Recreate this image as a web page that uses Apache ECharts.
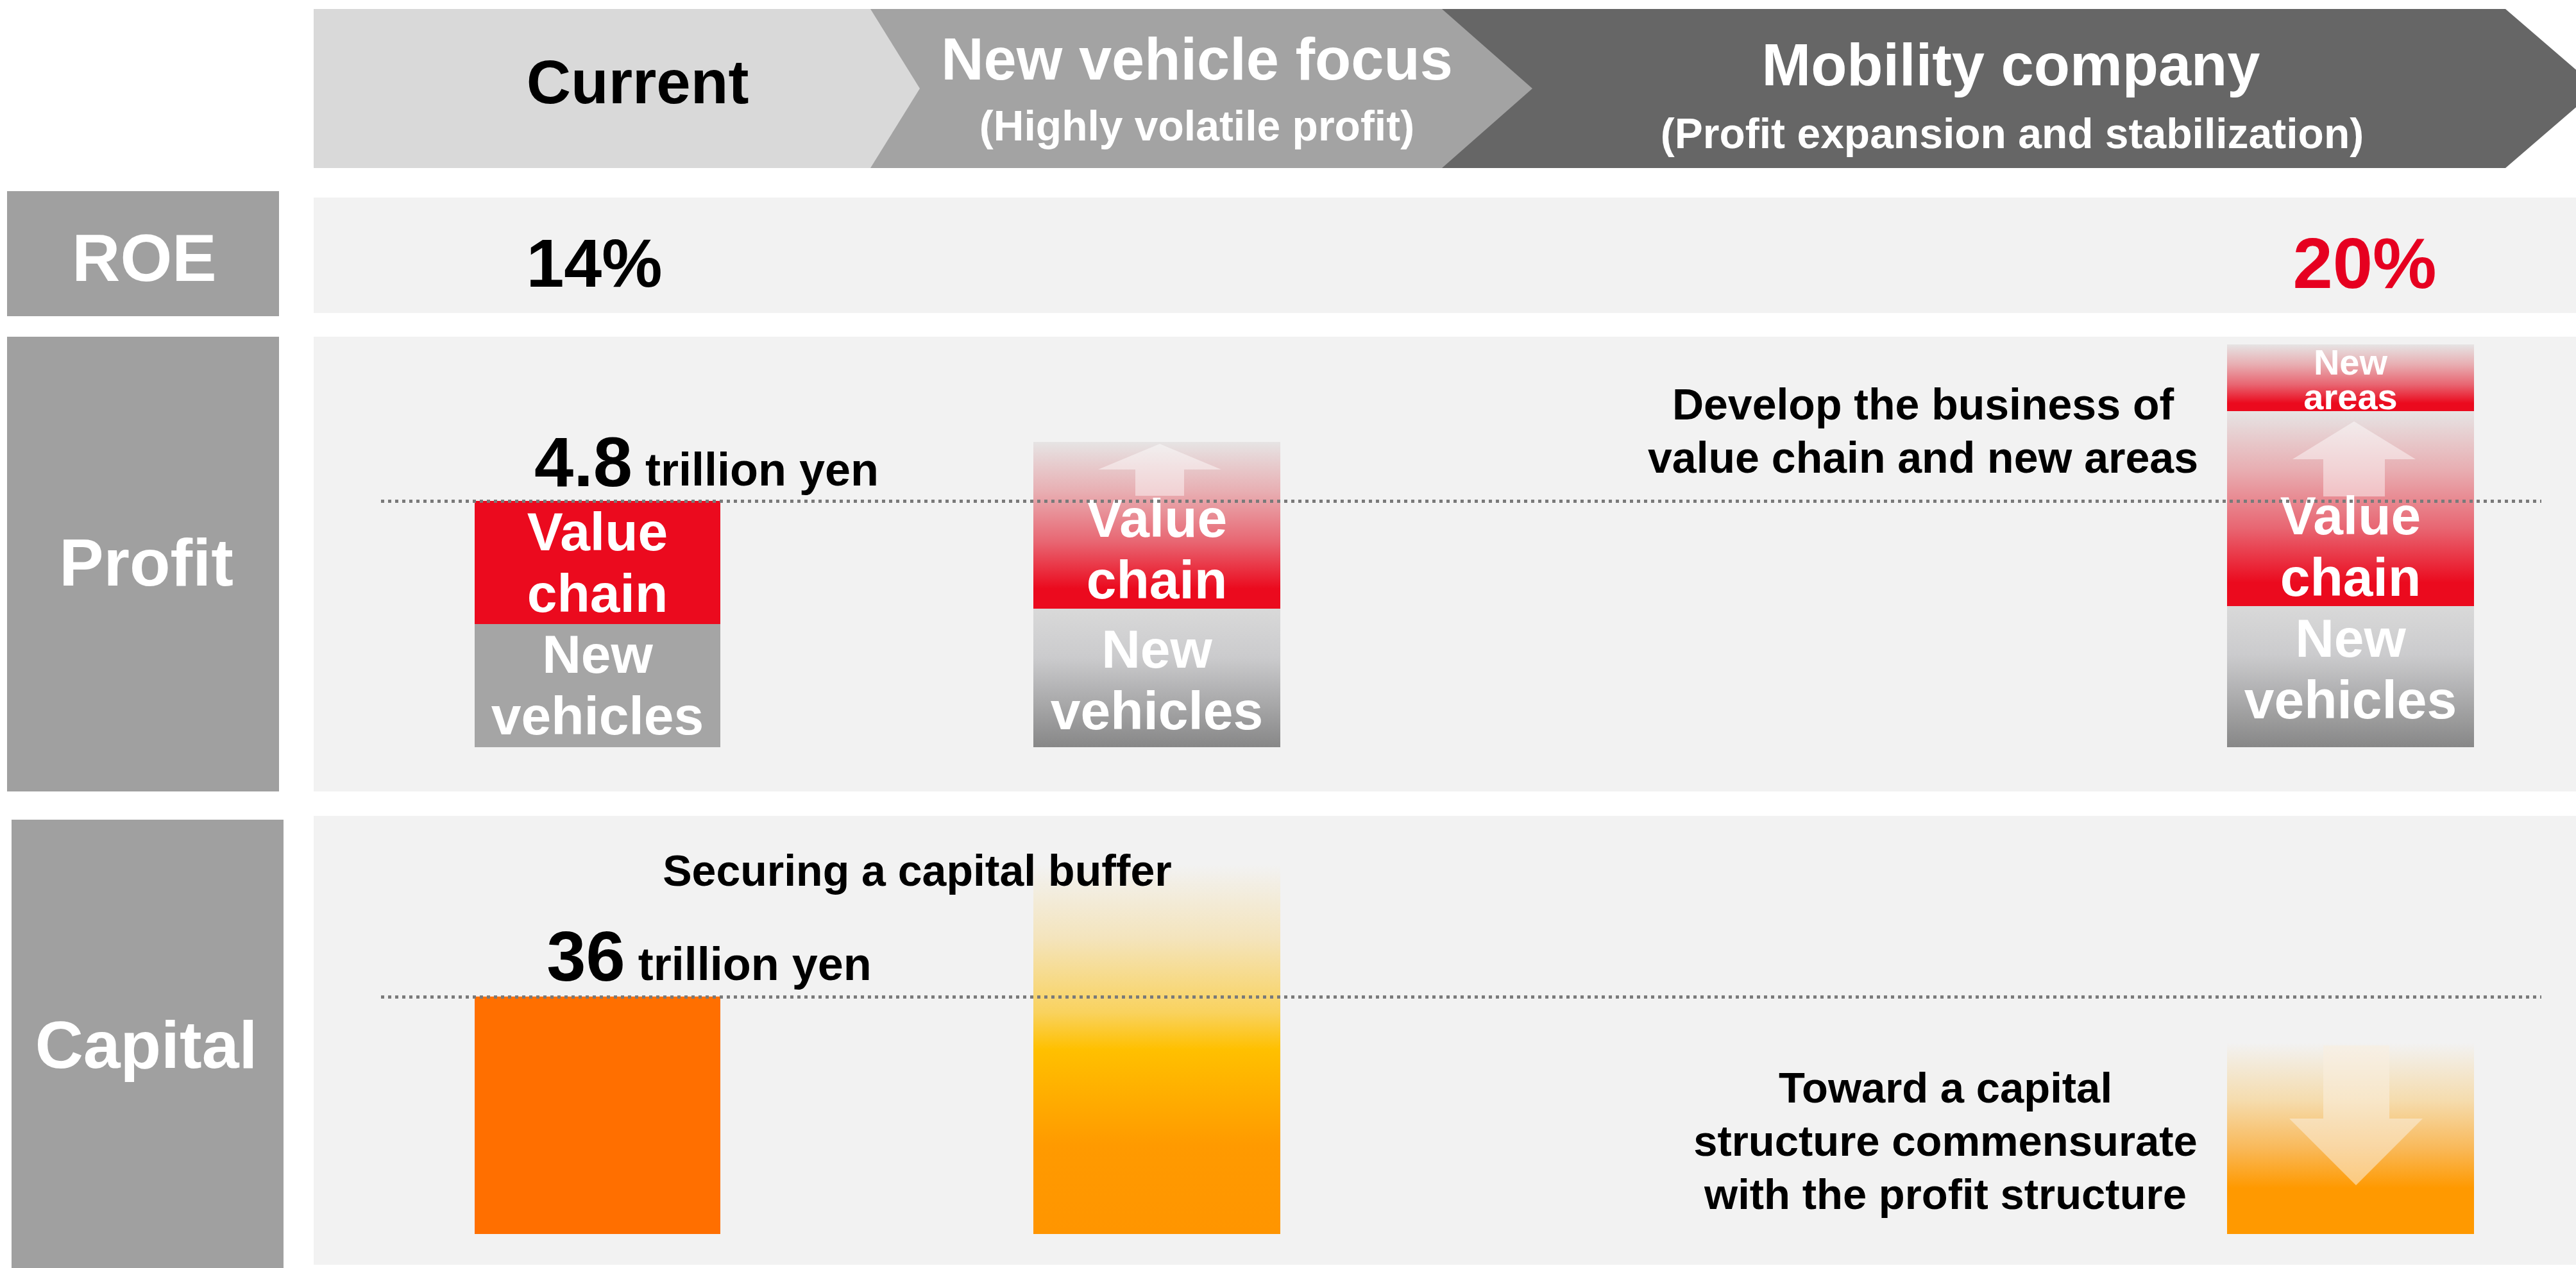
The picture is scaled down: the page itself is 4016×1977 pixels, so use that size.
<!DOCTYPE html>
<html>
<head>
<meta charset="utf-8">
<script src="https://cdn.jsdelivr.net/npm/echarts@6/dist/echarts.min.js"></script>
<style>
  html, body { margin: 0; padding: 0; background: #fff; }
  #main { width: 4016px; height: 1977px; }
</style>
</head>
<body>
<div id="main"></div>
<script>
// data (trillion yen / %)
var stages = ['Current', 'New vehicle focus', 'Mobility company'];
var stageNotes = ['', '(Highly volatile profit)', '(Profit expansion and stabilization)'];
var rowLabels = ['ROE', 'Profit', 'Capital'];
var roe = [14, null, 20];
var newVehicles = [2.4, 2.7, 2.75];
var valueChain = [2.4, 3.25, 3.8];
var newAreas = [null, null, 1.3];
var capital = [36, 56, 29];

var F = '"Liberation Sans", Arial, sans-serif';
var RED = '#eb0a1e';

// layout (px)
var colLeft = [740, 1611, 3472];
var colWidth = [383, 385, 385];
var colCenter = colLeft.map(function (l, i) { return l + colWidth[i] / 2; });
var profitGrid = { top: 525, height: 640 };
var capitalGrid = { top: 1307, height: 617 };
var nvOffset = [[0, 5], [0, 9], [0, -6]];
var vcDistance = [-6, -9, -9];

function vgrad(stops) {
	return new echarts.graphic.LinearGradient(0, 0, 0, 1, stops.map(function (s) {
		return { offset: s[0], color: s[1] };
	}));
}
var redStops = [[0, '#e6e4e4'], [0.3, '#e8aeb2'], [0.6, '#e86672'], [0.88, RED], [1, RED]];
var greyStops = [[0, '#d9d9d9'], [0.35, '#cbcbcd'], [1, '#878787']];
var capStops = [
	null,
	[[0, '#f2f2f2'], [0.2, '#f4e4bc'], [0.4, '#f9d25e'], [0.5, '#ffc000'], [0.76, '#ff9a00'], [1, '#ff9500']],
	[[0, '#f2f2f2'], [0.3, '#f5dcae'], [0.55, '#f9b95a'], [0.76, '#ff9900'], [1, '#ff9900']]
];

var profitTotal = newVehicles[0] + valueChain[0];

var bigRich = {
	a: { fontSize: 110, lineHeight: 110, fontWeight: 'bold', color: '#000', fontFamily: F },
	b: { fontSize: 72, lineHeight: 82, fontWeight: 'bold', color: '#000', fontFamily: F,
		verticalAlign: 'bottom', padding: [0, 0, 10, 0] }
};
var whiteLabel = { color: '#fff', fontWeight: 'bold', fontFamily: F };

var grids = [], xAxes = [], yAxes = [], series = [];

// profit grids 0..2, capital grids 3..5
[profitGrid, capitalGrid].forEach(function (g, r) {
	stages.forEach(function (name, c) {
		grids.push({ left: colLeft[c], width: colWidth[c], top: g.top, height: g.height });
		xAxes.push({ type: 'category', gridIndex: r * 3 + c, data: [name], show: false });
		yAxes.push({ type: 'value', gridIndex: r * 3 + c, min: 0, max: r === 0 ? 8 : 60, show: false });
	});
});
// full-width grids for the dotted reference lines: 6 profit, 7 capital
[profitGrid, capitalGrid].forEach(function (g, r) {
	grids.push({ left: 594, width: 3368, top: g.top, height: g.height });
	xAxes.push({ type: 'value', gridIndex: 6 + r, min: 0, max: 1, show: false });
	yAxes.push({ type: 'value', gridIndex: 6 + r, min: 0, max: r === 0 ? 8 : 60, show: false });
});

stages.forEach(function (name, c) {
	var flat = c === 0;
	var z = c === 2 ? 4 : 2;
	series.push({
		name: 'New vehicles', type: 'bar', xAxisIndex: c, yAxisIndex: c, stack: 'p' + c,
		barWidth: '100%', z: z, data: [newVehicles[c]],
		itemStyle: { color: flat ? '#a5a5a5' : vgrad(greyStops) },
		label: Object.assign({ show: true, position: 'inside', offset: nvOffset[c], formatter: 'New\nvehicles',
			fontSize: 84, lineHeight: 96 }, whiteLabel)
	});
	series.push({
		name: 'Value chain', type: 'bar', xAxisIndex: c, yAxisIndex: c, stack: 'p' + c,
		barWidth: '100%', z: z, data: [valueChain[c]],
		itemStyle: { color: flat ? RED : vgrad(redStops) },
		label: Object.assign({ show: true, position: 'insideBottom', distance: vcDistance[c], formatter: 'Value\nchain',
			fontSize: 84, lineHeight: 96 }, whiteLabel)
	});
	if (newAreas[c] != null) {
		series.push({
			name: 'New areas', type: 'bar', xAxisIndex: c, yAxisIndex: c, stack: 'p' + c,
			barWidth: '100%', z: z, data: [newAreas[c]],
			itemStyle: { color: vgrad(redStops) },
			label: Object.assign({ show: true, position: 'inside', offset: [0, 7], formatter: 'New\nareas',
				fontSize: 56, lineHeight: 54 }, whiteLabel)
		});
	}
	if (c === 0) {
		// zero-height cap on the stack to carry the total label
		series.push({
			name: 'Total', type: 'bar', xAxisIndex: c, yAxisIndex: c, stack: 'p' + c,
			barWidth: '100%', z: z, data: [0], itemStyle: { color: 'transparent' },
			label: { show: true, position: 'top', distance: -2, offset: [170, 0],
				formatter: '{a|' + profitTotal.toFixed(1) + '}{b| trillion yen}', rich: bigRich }
		});
	}
	series.push({
		name: 'Capital', type: 'bar', xAxisIndex: 3 + c, yAxisIndex: 3 + c,
		barWidth: '100%', z: 2, data: [capital[c]],
		itemStyle: { color: flat ? '#ff6f00' : vgrad(capStops[c]) },
		label: { show: c === 0, position: 'top', distance: 0, offset: [174, 0],
			formatter: '{a|' + capital[0] + '}{b| trillion yen}', rich: bigRich }
	});
});

var dotted = { color: '#7a7a7a', width: 5, type: [5, 6] };
[profitTotal, capital[0]].forEach(function (v, r) {
	series.push({
		type: 'line', xAxisIndex: 6 + r, yAxisIndex: 6 + r, data: [], z: 3,
		markLine: { silent: true, symbol: ['none', 'none'], label: { show: false },
			lineStyle: dotted, data: [{ yAxis: v }] }
	});
});

function txt(text, x, y, size, color) {
	return {
		type: 'text', z: 10,
		style: { text: text, x: x, y: y + 5, fill: color, fontSize: size, fontWeight: 'bold',
			fontFamily: F, textAlign: 'center', textVerticalAlign: 'middle' }
	};
}
function multi(text, x, y, size, lh) {
	var t = txt(text, x, y, size, '#000');
	t.style.lineHeight = lh;
	return t;
}

var elements = [
	// header chevrons
	{ type: 'polygon', z: 0, shape: { points: [[2248, 14], [3906, 14], [4050, 138], [3906, 262], [2248, 262]] }, style: { fill: '#666666' } },
	{ type: 'polygon', z: 0, shape: { points: [[1357, 14], [2248, 14], [2389, 138], [2248, 262], [1357, 262]] }, style: { fill: '#a3a3a3' } },
	{ type: 'polygon', z: 0, shape: { points: [[489, 14], [1357, 14], [1434, 138], [1357, 262], [489, 262]] }, style: { fill: '#d9d9d9' } },
	// row panels
	{ type: 'rect', z: 0, shape: { x: 489, y: 308, width: 3527, height: 180 }, style: { fill: '#f2f2f2' } },
	{ type: 'rect', z: 0, shape: { x: 489, y: 525, width: 3527, height: 709 }, style: { fill: '#f2f2f2' } },
	{ type: 'rect', z: 0, shape: { x: 489, y: 1272, width: 3527, height: 700 }, style: { fill: '#f2f2f2' } },
	// row label boxes
	{ type: 'rect', z: 0, shape: { x: 11, y: 298, width: 424, height: 195 }, style: { fill: '#a0a0a0' } },
	{ type: 'rect', z: 0, shape: { x: 11, y: 525, width: 424, height: 709 }, style: { fill: '#a0a0a0' } },
	{ type: 'rect', z: 0, shape: { x: 18, y: 1278, width: 424, height: 699 }, style: { fill: '#a0a0a0' } },
	txt(rowLabels[0], 225, 404, 104, '#fff'),
	txt(rowLabels[1], 228, 879, 104, '#fff'),
	txt(rowLabels[2], 228, 1631, 104, '#fff'),
	// header texts
	txt(stages[0], 994, 130, 96, '#000'),
	txt(stages[1], 1866, 94, 92, '#fff'),
	txt(stageNotes[1], 1866, 196, 66, '#fff'),
	txt(stages[2], 3135, 103, 92, '#fff'),
	txt(stageNotes[2], 3137, 208, 66, '#fff'),
	// arrows
	{ type: 'polygon', z: 10, shape: { points: [[1808, 692], [1904, 732], [1846, 732], [1846, 773], [1770, 773], [1770, 732], [1712, 732]] }, style: { fill: 'rgba(255,255,255,0.45)' } },
	{ type: 'polygon', z: 10, shape: { points: [[3670, 657], [3766, 716], [3718, 716], [3718, 774], [3622, 774], [3622, 716], [3574, 716]] }, style: { fill: 'rgba(255,255,255,0.45)' } },
	{ type: 'polygon', z: 10, shape: { points: [[3622, 1630], [3725, 1630], [3725, 1744], [3777, 1744], [3673, 1848], [3569, 1744], [3622, 1744]] }, style: { fill: 'rgba(250,238,222,0.55)' } },
	// annotations
	multi('Develop the business of\nvalue chain and new areas', 2998, 672, 68, 83),
	txt('Securing a capital buffer', 1430, 1357, 68, '#000'),
	multi('Toward a capital\nstructure commensurate\nwith the profit structure', 3033, 1779, 67, 83)
];
// ROE values
roe.forEach(function (v, c) {
	if (v == null) return;
	elements.push(txt(v + '%', colCenter[c] + (c === 2 ? 22 : -5), 413, c === 2 ? 112 : 106, c === 2 ? '#e60020' : '#000'));
});

var myChart = echarts.init(document.getElementById('main'));
myChart.setOption({
	backgroundColor: '#ffffff',
	animation: false,
	grid: grids,
	xAxis: xAxes,
	yAxis: yAxes,
	series: series,
	graphic: { elements: elements }
});
</script>
</body>
</html>
